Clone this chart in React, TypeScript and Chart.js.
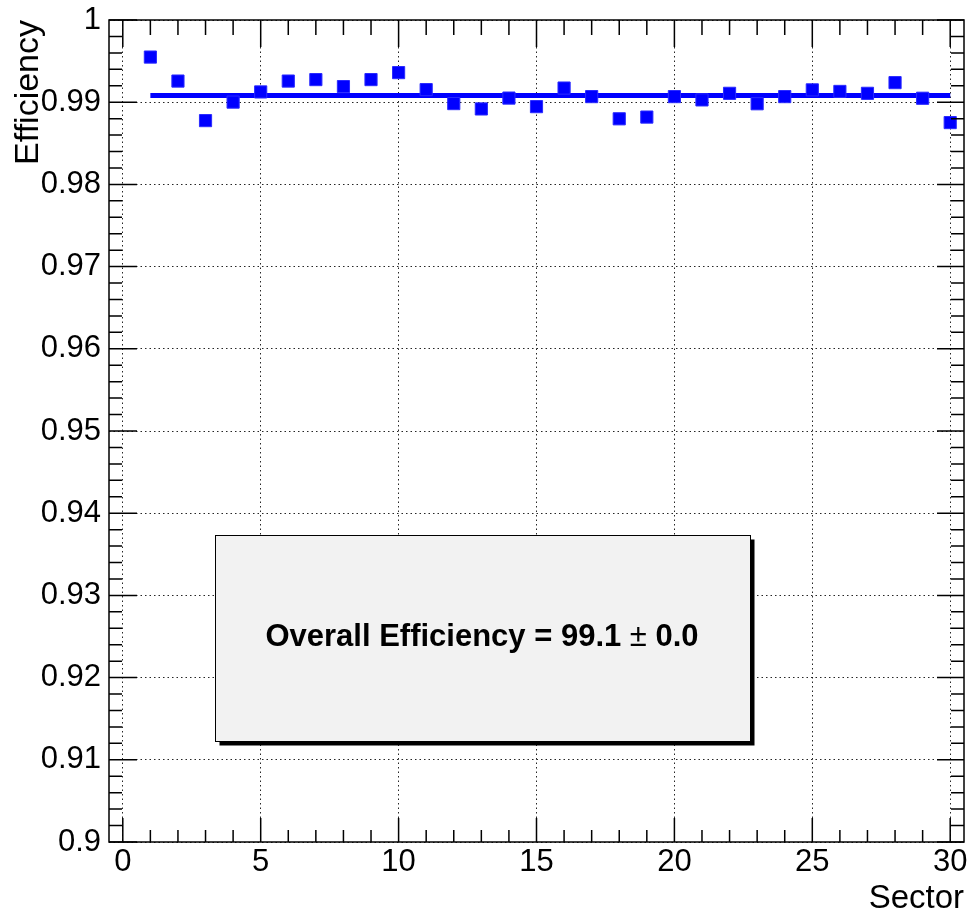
import React, { useEffect, useRef } from 'react';
import { Chart, registerables } from 'chart.js';

Chart.register(...registerables);

// ---------- data ----------
const sectors = [1, 2, 3, 4, 5, 6, 7, 8, 9, 10, 11, 12, 13, 14, 15, 16, 17, 18, 19, 20, 21, 22, 23, 24, 25, 26, 27, 28, 29, 30];
const efficiency = [
  0.99549, 0.99257, 0.98776, 0.99001, 0.99125, 0.99257, 0.99275, 0.9919, 0.99275, 0.9936,
  0.99153, 0.98983, 0.98918, 0.9905, 0.98946, 0.99172, 0.99068, 0.98798, 0.98819, 0.99068,
  0.99028, 0.99108, 0.98981, 0.99068, 0.9915, 0.99131, 0.99108, 0.99238, 0.99048, 0.98752,
];
const fitRange = [1, 30];
const fitValue = 0.9908;

const xTickValues = [0, 5, 10, 15, 20, 25, 30];
const xTickLabels = ['0', '5', '10', '15', '20', '25', '30'];
const yTickValues = [0.9, 0.91, 0.92, 0.93, 0.94, 0.95, 0.96, 0.97, 0.98, 0.99, 1.0];
const yTickLabels = ['0.9', '0.91', '0.92', '0.93', '0.94', '0.95', '0.96', '0.97', '0.98', '0.99', '1'];

const xTitle = 'Sector';
const yTitle = 'Efficiency';
const statText = 'Overall Efficiency = 99.1';
const statErr = '0.0';

const FONT = "'Liberation Sans', Arial, Helvetica, sans-serif";
const BLUE = '#0000ff';

const lookup = (vals: number[], labels: string[], v: number) => {
  const i = vals.findIndex((t) => Math.abs(t - v) < 1e-6);
  return i >= 0 ? labels[i] : '';
};

// ROOT-like frame, inward ticks and stat box
const rootFramePlugin = {
  id: 'rootFrame',
  afterDatasetsDraw(chart: any) {
    const { ctx, chartArea: a, scales } = chart;
    const xs = scales.x;
    const ys = scales.y;
    ctx.save();
    ctx.strokeStyle = '#000';
    ctx.lineWidth = 1.5;
    ctx.beginPath();
    for (let i = 0; i <= 30; i++) {
      const px = xs.getPixelForValue(i);
      const major = i % 5 === 0;
      const lb = major ? 24 : 12;
      const lt = major ? 27 : 15;
      ctx.moveTo(px, a.bottom);
      ctx.lineTo(px, a.bottom - lb);
      ctx.moveTo(px, a.top);
      ctx.lineTo(px, a.top + lt);
    }
    for (let j = 0; j <= 50; j++) {
      const py = ys.getPixelForValue(0.9 + j * 0.002);
      const major = j % 5 === 0;
      const l = major ? 28 : 13;
      const r = major ? 27 : 13;
      ctx.moveTo(a.left, py);
      ctx.lineTo(a.left + l, py);
      ctx.moveTo(a.right, py);
      ctx.lineTo(a.right - r, py);
    }
    ctx.stroke();
    ctx.strokeRect(a.left, a.top, a.right - a.left, a.bottom - a.top);
    ctx.restore();
  },
  afterDraw(chart: any) {
    const { ctx, chartArea: a } = chart;
    const w = a.right - a.left;
    const h = a.bottom - a.top;
    const bx = Math.round(a.left + 0.124 * w) + 0.5;
    const by = Math.round(a.top + 0.6265 * h) + 0.5;
    const bw = Math.round(0.626 * w);
    const bh = Math.round(0.2505 * h);
    ctx.save();
    ctx.fillStyle = '#000';
    ctx.fillRect(bx + 4, by + 4, bw, bh);
    ctx.fillStyle = '#f2f2f2';
    ctx.fillRect(bx, by, bw, bh);
    ctx.strokeStyle = '#000';
    ctx.lineWidth = 1;
    ctx.strokeRect(bx, by, bw, bh);
    ctx.fillStyle = '#000';
    ctx.textBaseline = 'middle';
    ctx.textAlign = 'left';
    const boldFont = `bold 31px ${FONT}`;
    const pmFont = `31px ${FONT}`;
    ctx.font = boldFont;
    const w1 = ctx.measureText(statText + ' ').width;
    const w3 = ctx.measureText(' ' + statErr).width;
    ctx.font = pmFont;
    const w2 = ctx.measureText('\u00B1').width;
    const total = w1 + w2 + w3;
    let x = bx + bw / 2 - total / 2 - 1;
    const y = by + bh / 2 - 1;
    ctx.font = boldFont;
    ctx.fillText(statText + ' ', x, y);
    x += w1;
    ctx.font = pmFont;
    ctx.fillText('\u00B1', x, y);
    x += w2;
    ctx.font = boldFont;
    ctx.fillText(' ' + statErr, x, y);
    ctx.restore();
  },
};

export default function App() {
  const ref = useRef<HTMLCanvasElement | null>(null);

  useEffect(() => {
    if (!ref.current) return;
    Chart.defaults.font.family = FONT;
    const chart = new Chart(ref.current, {
      type: 'scatter',
      data: {
        datasets: [
          {
            label: 'fit',
            data: fitRange.map((x) => ({ x, y: fitValue })),
            showLine: true,
            borderColor: BLUE,
            borderWidth: 5,
            pointRadius: 0,
            order: 2,
          },
          {
            label: 'efficiency',
            data: sectors.map((s, i) => ({ x: s, y: efficiency[i] })),
            showLine: false,
            pointStyle: 'rect',
            pointRadius: 8.6,
            pointBorderWidth: 1,
            backgroundColor: BLUE,
            borderColor: '#2a2aff',
            order: 1,
          },
        ],
      },
      plugins: [rootFramePlugin],
      options: {
        responsive: false,
        animation: false,
        layout: { autoPadding: false, padding: { left: 0, top: 20, right: 5, bottom: 0 } },
        plugins: { legend: { display: false }, tooltip: { enabled: false } },
        scales: {
          x: {
            type: 'linear',
            min: -0.5,
            max: 30.5,
            afterFit: (s: any) => {
              s.height = 73;
              s.paddingLeft = 0;
              s.paddingRight = 0;
              s.paddingTop = 0;
              s.paddingBottom = 0;
            },
            afterBuildTicks: (s: any) => {
              s.ticks = xTickValues.map((v) => ({ value: v }));
            },
            ticks: {
              includeBounds: false,
              stepSize: 5,
              maxRotation: 0,
              autoSkip: false,
              padding: 2,
              color: '#000',
              font: { size: 31, family: FONT },
              callback: (v: any) => lookup(xTickValues, xTickLabels, Number(v)),
            },
            grid: {
              drawTicks: false,
              color: 'rgba(0,0,0,0.85)',
              lineWidth: 1,
              borderDash: [1.5, 3],
            } as any,
            border: { display: false, dash: [1.5, 3] },
            title: {
              display: true,
              text: xTitle,
              align: 'end',
              color: '#000',
              font: { size: 33, family: FONT, lineHeight: 1 },
              padding: { top: 0, bottom: 0 },
            },
          },
          y: {
            type: 'linear',
            min: 0.9,
            max: 1.0,
            afterFit: (s: any) => {
              s.width = 109;
              s.paddingLeft = 0;
              s.paddingRight = 0;
              s.paddingTop = 0;
              s.paddingBottom = 0;
            },
            afterBuildTicks: (s: any) => {
              s.ticks = yTickValues.map((v) => ({ value: v }));
            },
            ticks: {
              stepSize: 0.01,
              autoSkip: false,
              padding: 8,
              color: '#000',
              font: { size: 31, family: FONT },
              callback: (v: any) => lookup(yTickValues, yTickLabels, Number(v)),
            },
            grid: {
              drawTicks: false,
              color: 'rgba(0,0,0,0.85)',
              lineWidth: 1,
              borderDash: [1.5, 3],
            } as any,
            border: { display: false, dash: [1.5, 3] },
            title: {
              display: true,
              text: yTitle,
              align: 'end',
              color: '#000',
              font: { size: 34, family: FONT, lineHeight: 1 },
              padding: { top: 12, bottom: 0 },
            },
          },
        },
      } as any,
    });
    return () => chart.destroy();
  }, []);

  return (
    <div style={{ position: 'absolute', left: 0, top: 0, width: 969, height: 915, background: '#fff' }}>
      <canvas ref={ref} width={969} height={915} style={{ display: 'block' }} />
    </div>
  );
}
